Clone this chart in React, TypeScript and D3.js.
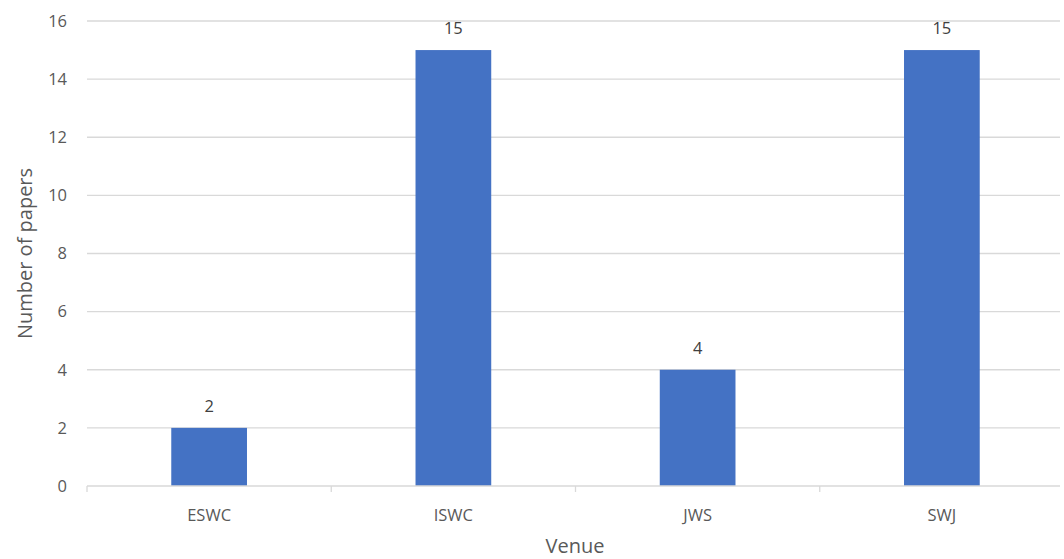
import React from 'react';
import * as d3 from 'd3';

const venues = ['ESWC', 'ISWC', 'JWS', 'SWJ'];
const papers = [2, 15, 4, 15];
const yTicks = [0, 2, 4, 6, 8, 10, 12, 14, 16];

const W = 1064;
const H = 559;
const margin = { top: 21, right: 0, bottom: 73, left: 87 };
const font = '"Open Sans", sans-serif';
const textColor = '#595959';
const gridColor = '#d9d9d9';

export default function App() {
  const x = d3
    .scaleBand<string>()
    .domain(venues)
    .range([margin.left, 1064])
    .paddingInner(0.69)
    .paddingOuter(0.345);
  // boundaries between categories, for the small axis ticks
  const band = d3.scaleBand<string>().domain(venues).range([margin.left, 1064]);
  const y = d3.scaleLinear().domain([0, 16]).range([H - margin.bottom, margin.top]);

  const gridRight = 1060;

  return (
    <svg
      width={W}
      height={H}
      style={{ position: 'absolute', left: 0, top: 0, background: '#fff' }}
      fontFamily={font}
    >
      {yTicks.map((t) => (
        <g key={t}>
          {t > 0 && (
            <line
              x1={margin.left}
              x2={gridRight}
              y1={y(t)}
              y2={y(t)}
              stroke={gridColor}
              strokeWidth={1.3}
            />
          )}
          <text
            x={67}
            y={y(t)}
            dy="0.35em"
            textAnchor="end"
            fontSize={16.5}
            fill={textColor}
          >
            {t}
          </text>
        </g>
      ))}

      {venues.map((v, i) => (
        <g key={v}>
          <rect
            x={x(v)!}
            y={y(papers[i])}
            width={x.bandwidth()}
            height={y(0) - y(papers[i])}
            fill="#4472c4"
          />
          <text
            x={x(v)! + x.bandwidth() / 2}
            y={y(papers[i]) - 16}
            textAnchor="middle"
            fontSize={16.5}
            fill="#404040"
          >
            {papers[i]}
          </text>
          <text
            x={band(v)! + band.bandwidth() / 2}
            y={y(0) + 35}
            textAnchor="middle"
            fontSize={16.5}
            fill={textColor}
          >
            {v}
          </text>
        </g>
      ))}

      {/* x axis line and category ticks */}
      <line x1={margin.left} x2={gridRight} y1={y(0)} y2={y(0)} stroke={gridColor} strokeWidth={1.3} />
      {venues.map((v) => (
        <line
          key={v}
          x1={band(v)!}
          x2={band(v)!}
          y1={y(0)}
          y2={y(0) + 6}
          stroke={gridColor}
          strokeWidth={1.3}
        />
      ))}

      <text
        transform={`translate(32,${(y(0) + y(16)) / 2}) rotate(-90)`}
        textAnchor="middle"
        fontSize={20}
        fill={textColor}
      >
        Number of papers
      </text>
      <text x={575} y={553} textAnchor="middle" fontSize={20} fill={textColor}>
        Venue
      </text>
    </svg>
  );
}
